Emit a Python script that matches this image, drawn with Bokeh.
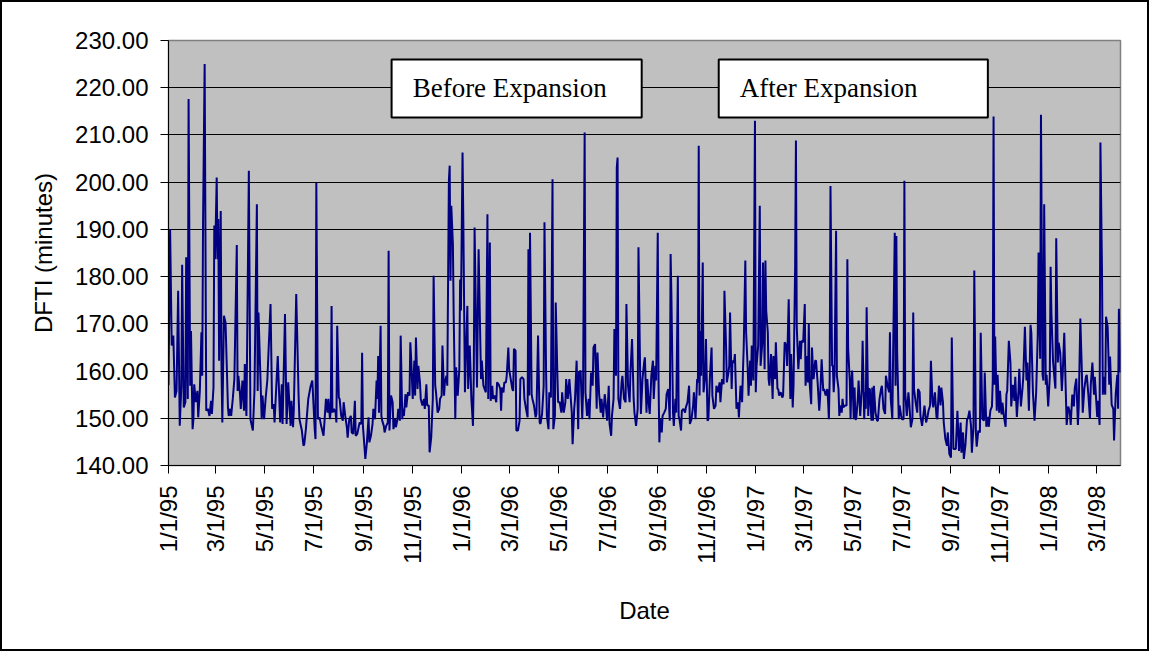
import math
import pandas as pd
from bokeh.plotting import figure
from bokeh.models import (Range1d, FixedTicker, NumeralTickFormatter, CustomJSTickFormatter,
                          BoxAnnotation, Label, ColumnDataSource)
from bokeh.embed import file_html
from bokeh.resources import INLINE

# ---------------- data ----------------
start_date = "1995-01-01"
end_date = "1998-03-31"

# day offsets from 1/1/95
days = [
    0, 2, 4, 6, 8, 10, 12, 14, 16, 17, 19, 21, 22, 24, 25, 27, 28, 30, 31, 32, 34, 36, 37, 39, 41, 42, 43, 45, 47, 49,
    51, 53, 54, 56, 57, 58, 60, 61, 62, 63, 65, 66, 67, 69, 71, 74, 75, 77, 78, 80, 82, 85, 86, 87, 89, 90, 92, 94, 95, 96,
    97, 100, 102, 105, 107, 110, 111, 112, 114, 116, 117, 119, 121, 123, 127, 129, 131, 132, 136, 139, 141, 142, 145, 147, 149, 152, 153, 155, 156, 159,
    162, 163, 166, 168, 169, 171, 174, 177, 179, 182, 183, 184, 186, 188, 190, 193, 196,
    198, 199, 201, 202, 203, 204, 206, 208, 209, 210, 212, 213, 215, 217, 218, 220, 222, 223, 225, 227, 228, 230, 232, 233, 235, 237, 238, 240, 241, 242,
    244, 245, 247, 249, 250, 252, 254, 255, 257, 259, 260, 261, 262, 264, 265, 266, 268, 269, 271, 273, 274, 275, 277, 279, 280, 282, 283, 285, 286, 288,
    289, 291, 292, 293, 295, 296, 298, 300, 301, 302, 304, 306, 307, 308, 310, 311, 313, 314, 316, 318, 319, 321, 322, 324, 325, 327, 329, 330, 332, 333,
    335, 337, 338, 340, 341, 343, 344, 346, 347, 349, 350, 351, 352, 354, 355, 357, 358, 360, 362, 363, 364, 366, 367, 369, 370, 372, 373, 375, 377, 379,
    380, 381, 382, 384, 386, 387, 389, 390, 392,
    395, 397, 398, 400, 401, 403, 404, 406, 408, 409, 411, 413, 414, 415, 417, 418, 420, 421, 423, 424, 426, 428, 429, 430, 432, 433, 435, 437, 438, 440,
    442, 443, 445, 447, 448, 449, 450, 452, 453, 455, 457, 458, 460, 462, 463, 465, 467, 468, 470, 471, 473, 474, 476, 478, 479, 481, 482, 484, 485, 487,
    489, 490, 492, 494, 495, 497, 499, 500, 502, 503, 505, 506, 508, 510, 511, 513, 515, 516, 518, 519, 521, 523, 524, 526, 528, 529, 531, 533, 534, 536,
    538, 539, 541, 543, 544, 546, 548, 549, 551, 552, 554, 555, 557, 558, 559, 560, 562, 564, 565, 567, 569, 570, 572, 574, 575, 577, 579, 580, 582, 584,
    585, 587, 588, 590,
    592, 593, 595, 596, 598, 599, 601, 603, 604, 606, 607, 609, 610, 611, 612, 614, 615, 617, 619, 620, 622, 624, 625, 626, 628, 629, 631, 632, 634, 635,
    636, 638, 639, 641, 643, 644, 646, 648, 649, 651, 653, 654, 656, 658, 659, 660, 661, 662, 663, 665, 666, 668, 669, 671, 672, 674, 676, 677, 679, 681,
    682, 684, 686, 687, 689, 691, 692, 694, 695, 697, 698, 699, 701, 702, 704, 705, 707, 709, 710, 712, 714, 715, 716, 718, 719, 721, 722, 724, 725, 726,
    728, 730, 731, 732, 734, 736, 737, 739, 740, 742, 743, 744, 746, 747, 748, 750, 752, 753, 755, 756, 758, 759, 760, 762, 764, 765, 767, 769, 770, 772,
    774, 775, 777, 778, 780, 781, 782, 784, 786, 787,
    788, 790, 791, 792, 793, 795, 796, 797, 798, 800, 801, 802, 803, 805, 806, 808, 810, 811, 813, 815, 816, 818, 820, 821, 822, 823, 824, 826, 827, 828,
    829, 831, 832, 834, 835, 836, 838, 839, 840, 842, 844, 845, 846, 848, 849, 850, 851, 853, 854, 855, 856, 858, 859, 861, 863, 864, 866, 867, 868, 869,
    871, 872, 873, 875, 876, 877, 878, 880, 882, 883, 885, 887, 888, 890, 892, 893, 895, 897, 898, 899, 901, 902, 904, 905, 906, 907, 909, 910, 912, 913,
    915, 916, 917, 919, 921, 922, 924, 926, 927, 928, 930, 932, 933, 935, 936, 938, 940, 941, 943, 945, 946, 948, 949, 951, 952, 954, 956, 957, 959, 961,
    962, 964, 965, 967, 969, 970, 972, 974, 975, 977, 979, 980,
    982, 984, 986, 987, 989, 990, 992, 994, 995, 997, 999, 1000, 1002, 1003, 1005, 1006, 1008, 1010, 1011, 1013, 1015, 1016, 1018, 1020, 1021, 1023, 1025, 1026, 1027, 1028,
    1029, 1031, 1032, 1034, 1035, 1037, 1038, 1040, 1042, 1043, 1044, 1046, 1048, 1049, 1051, 1053, 1054, 1056, 1058, 1059, 1061, 1063, 1064, 1066, 1068, 1069, 1071, 1073, 1074, 1076,
    1078, 1080, 1082, 1083, 1085, 1086, 1088, 1089, 1090, 1092, 1093, 1095, 1097, 1098, 1099, 1101, 1103, 1104, 1105, 1107, 1108, 1110, 1112, 1113, 1115, 1117, 1118, 1120, 1122, 1123,
    1125, 1127, 1128, 1130, 1132, 1133, 1135, 1137, 1138, 1140, 1142, 1143, 1145, 1147, 1148, 1150, 1152, 1153, 1156, 1157, 1159, 1160, 1162, 1163, 1164, 1166, 1167, 1169, 1171, 1172,
    1174, 1176, 1177, 1179, 1181, 1182, 1183, 1185,
]

# DFTI in minutes
dfti = [
    157.0, 190.1, 165.4, 167.5, 154.4, 155.8, 177.0, 148.4, 156.9, 182.5, 152.3, 153.4, 184.1, 154.1, 217.6, 156.9, 168.5, 147.7, 149.8, 157.2, 153.4, 155.8, 150.2, 155.8, 168.2, 159.0, 191.5, 225.0, 151.6, 152.0,
    150.5, 153.7, 150.9, 156.5, 190.8, 183.7, 201.0, 183.7, 192.2, 162.2, 193.9, 160.4, 149.1, 171.7, 170.3, 152.3, 150.5, 152.0, 150.5, 154.1, 158.3, 186.7, 155.8, 159.0, 155.1, 152.0, 158.0, 151.6, 161.5, 154.4,
    150.5, 202.4, 149.8, 147.4, 155.8, 195.3, 155.8, 172.4, 161.1, 149.8, 154.8, 149.8, 154.4, 158.0, 174.2, 152.0, 153.0, 149.1, 163.2, 149.1, 157.2, 148.8, 172.1, 148.8, 157.6, 148.4, 153.7, 148.1, 152.0, 176.3,
    154.4, 149.8, 147.4, 144.2, 144.5, 147.7, 154.1, 156.9, 158.0, 147.7, 145.6, 199.9, 149.8, 150.2, 148.4, 146.3, 154.1,
    151.2, 154.1, 149.8, 152.0, 173.8, 151.2, 152.0, 151.2, 149.1, 169.6, 154.4, 154.1, 150.5, 149.5, 153.4, 150.5, 148.1, 145.9, 149.8, 150.5, 147.0, 146.7, 153.7, 146.3, 146.7, 148.4, 149.1, 148.8, 163.9, 148.4,
    143.8, 141.4, 144.9, 150.2, 144.9, 146.3, 148.8, 152.0, 149.8, 158.0, 154.1, 163.2, 151.2, 169.6, 150.5, 149.5, 148.4, 147.0, 148.4, 149.1, 185.5, 147.4, 154.8, 153.4, 147.7, 149.8, 148.1, 149.8, 152.0, 149.5,
    167.5, 149.8, 152.0, 150.5, 155.1, 152.3, 155.5, 154.8, 166.1, 162.9, 154.1, 162.2, 154.8, 167.1, 156.2, 161.1, 157.6, 154.1, 152.7, 154.1, 152.0, 157.2, 152.7, 152.7, 142.8, 145.9, 154.1, 180.2, 156.9, 155.5,
    151.2, 152.0, 154.1, 154.8, 165.4, 154.8, 157.6, 159.0, 156.9, 200.3, 203.5, 179.1, 195.0, 186.9, 171.7, 149.8, 160.8, 154.8, 160.4, 179.4, 172.8, 206.3, 191.5, 155.5, 162.2, 173.8, 156.2, 165.4, 154.1, 148.4,
    159.0, 190.4, 179.1, 156.5, 185.8, 176.6, 158.3, 162.2, 156.9,
    155.5, 193.2, 154.1, 187.2, 153.7, 156.9, 154.1, 154.8, 153.4, 157.6, 157.2, 156.2, 151.6, 156.5, 155.5, 157.6, 157.6, 159.0, 165.0, 160.4, 158.3, 156.2, 155.8, 164.7, 164.3, 147.4, 147.4, 149.5, 158.3, 158.7,
    158.3, 154.1, 152.0, 150.2, 185.8, 154.8, 189.3, 155.1, 154.1, 152.7, 150.2, 150.9, 167.5, 149.1, 148.8, 150.9, 156.9, 191.5, 159.7, 150.5, 147.7, 155.5, 154.4, 200.6, 147.7, 150.5, 174.5, 159.7, 153.4, 153.4,
    151.2, 155.5, 151.2, 153.4, 158.3, 154.1, 158.3, 155.8, 151.2, 144.5, 152.0, 154.1, 162.2, 147.7, 159.7, 160.1, 149.8, 155.5, 210.5, 155.5, 150.5, 154.1, 149.8, 159.7, 156.9, 165.0, 165.7, 152.0, 163.9, 155.1,
    151.2, 154.1, 150.2, 155.1, 153.4, 149.5, 156.9, 148.8, 146.3, 150.5, 154.1, 168.9, 159.0, 203.1, 205.2, 154.1, 152.0, 157.6, 159.0, 154.1, 153.4, 174.2, 156.9, 153.4, 159.7, 166.8, 154.1, 151.2, 148.4, 152.0,
    186.2, 160.4, 150.9, 158.3,
    161.8, 162.9, 151.2, 158.3, 152.7, 150.9, 159.0, 162.2, 154.1, 161.1, 158.0, 189.3, 157.6, 144.9, 149.8, 147.0, 150.5, 151.2, 152.0, 155.1, 156.2, 149.5, 184.8, 175.9, 151.2, 148.4, 154.1, 151.2, 180.2, 150.5,
    149.8, 147.4, 151.6, 152.0, 151.2, 152.3, 153.4, 156.9, 148.8, 149.8, 152.7, 155.5, 149.8, 158.3, 157.6, 207.7, 154.8, 168.5, 159.0, 183.0, 155.5, 159.0, 166.8, 149.5, 149.8, 159.0, 165.0, 154.8, 152.0, 152.7,
    156.9, 155.5, 157.6, 153.4, 158.3, 157.2, 177.0, 165.4, 157.6, 159.7, 161.1, 172.4, 156.2, 162.2, 161.8, 163.6, 152.0, 153.4, 150.2, 156.9, 153.4, 159.7, 165.0, 183.4, 168.2, 160.4, 154.8, 162.2, 156.9, 165.4,
    158.0, 213.0, 155.5, 161.1, 165.4, 195.0, 161.1, 165.7, 183.0, 160.4, 183.4, 172.8, 168.2, 158.3, 156.9, 163.6, 154.1, 163.2, 158.3, 166.1, 156.2, 156.2, 154.8, 155.5, 154.4, 154.8, 166.1, 165.4, 161.1, 175.2,
    154.1, 163.6, 152.3, 156.9, 182.3, 208.8, 169.6, 160.4, 166.4, 162.5,
    166.4, 166.1, 170.0, 174.2, 156.9, 163.2, 157.6, 170.0, 157.6, 153.0, 165.0, 161.1, 158.3, 162.2, 162.2, 157.6, 151.6, 154.1, 162.5, 155.8, 156.2, 154.8, 156.2, 153.7, 149.8, 158.3, 199.2, 161.1, 161.1, 155.5,
    159.0, 189.7, 159.0, 156.2, 150.5, 152.7, 151.2, 154.1, 152.3, 152.7, 152.7, 183.7, 164.7, 158.0, 149.8, 157.6, 160.1, 149.8, 156.5, 149.8, 149.8, 154.1, 158.0, 150.5, 156.2, 166.4, 149.8, 155.5, 152.0, 173.5,
    150.5, 156.2, 156.2, 149.5, 156.5, 149.5, 156.9, 151.2, 149.5, 149.5, 154.1, 156.2, 156.9, 152.0, 150.9, 159.0, 156.9, 155.5, 168.2, 154.1, 149.8, 163.9, 189.3, 156.9, 188.6, 163.9, 149.8, 152.7, 150.5, 149.8,
    149.8, 200.3, 155.5, 150.5, 155.5, 153.4, 148.1, 149.8, 172.4, 156.2, 153.4, 151.2, 156.2, 155.5, 150.5, 148.4, 151.2, 152.7, 149.1, 150.5, 151.6, 152.7, 162.2, 153.4, 152.3, 155.5, 150.2, 149.8, 156.9, 152.7,
    156.5, 153.4, 149.1, 145.6, 144.2, 147.0, 142.4, 141.7, 167.1, 143.5, 143.5, 143.5,
    151.6, 143.1, 149.1, 142.7, 147.0, 141.4, 144.4, 149.9, 149.9, 151.6, 148.2, 142.7, 148.2, 181.3, 147.0, 144.0, 147.4, 147.0, 168.1, 149.9, 149.5, 159.7, 148.2, 150.3, 148.2, 151.6, 152.5, 158.0, 213.9, 157.1,
    167.3, 151.6, 159.2, 151.2, 155.8, 150.8, 153.3, 150.3, 148.2, 155.0, 155.8, 166.4, 161.8, 152.5, 157.1, 153.7, 158.8, 150.3, 155.8, 160.5, 152.5, 156.3, 158.8, 169.4, 158.0, 161.8, 151.6, 169.8, 168.1, 155.4,
    149.5, 155.4, 167.7, 185.1, 162.6, 214.3, 159.2, 158.0, 195.3, 157.1, 159.2, 152.5, 158.8, 182.1, 172.4, 162.2, 158.0, 156.3, 188.1, 161.8, 166.0, 163.9, 155.8, 159.2, 168.1, 155.0, 148.6, 152.5, 151.2, 148.6,
    155.0, 152.5, 156.3, 158.4, 148.6, 152.5, 171.1, 159.2, 151.2, 156.3, 158.8, 159.2, 155.0, 149.9, 157.1, 161.8, 155.0, 158.8, 150.3, 153.7, 148.6, 208.4, 180.8, 155.0, 158.8, 155.0, 171.5, 169.4, 157.1, 163.1,
    152.9, 152.0, 145.3, 155.0, 159.2, 152.0, 173.2, 159.7,
]

tick_dates = [
    "1995-01-01", "1995-03-01", "1995-05-01", "1995-07-01", "1995-09-01", "1995-11-01",
    "1996-01-01", "1996-03-01", "1996-05-01", "1996-07-01", "1996-09-01", "1996-11-01",
    "1997-01-01", "1997-03-01", "1997-05-01", "1997-07-01", "1997-09-01", "1997-11-01",
    "1998-01-01", "1998-03-01",
]
y_ticks = [140, 150, 160, 170, 180, 190, 200, 210, 220, 230]
y_title = "DFTI (minutes)"
x_title = "Date"
box_texts = ["Before Expansion", "After Expansion"]

# ---------------- chart ----------------
t0 = pd.Timestamp(start_date)
dates = t0 + pd.to_timedelta(days, unit="D")
source = ColumnDataSource(dict(date=dates, dfti=dfti))


def ms(day_offset):
    return (t0 + pd.Timedelta(days=day_offset)).value / 1e6


p = figure(
    width=1149, height=651,
    x_axis_type="datetime",
    x_range=Range1d(t0, pd.Timestamp(end_date)),
    y_range=Range1d(140, 230),
    output_backend="svg", toolbar_location=None,
    min_border_left=166, min_border_right=31, min_border_top=38, min_border_bottom=188,
)
p.styles = {"border": "2px solid black"}
p.background_fill_color = "#C0C0C0"
p.border_fill_color = "white"
p.outline_line_color = "#808080"
p.outline_line_width = 1.5

p.line("date", "dfti", source=source, line_color="#000080", line_width=2)

# axes
p.xaxis.ticker = FixedTicker(ticks=[pd.Timestamp(d).value / 1e6 for d in tick_dates])
p.xaxis.formatter = CustomJSTickFormatter(code="""
    const d = new Date(tick);
    return (d.getUTCMonth() + 1) + '/' + d.getUTCDate() + '/' + String(d.getUTCFullYear()).slice(2);
""")
p.xaxis.major_label_orientation = math.pi / 2
p.yaxis.ticker = FixedTicker(ticks=y_ticks)
p.yaxis.formatter = NumeralTickFormatter(format="0.00")
p.xaxis.axis_label = x_title
p.yaxis.axis_label = y_title

for ax in (p.xaxis[0], p.yaxis[0]):
    ax.axis_line_color = "black"
    ax.axis_line_width = 1
    ax.major_tick_line_color = "black"
    ax.major_tick_in = 0
    ax.major_tick_out = 8
    ax.minor_tick_line_color = None
    ax.major_label_text_font = "Liberation Sans"
    ax.major_label_text_font_size = "24px"
    ax.major_label_text_color = "black"
    ax.major_label_standoff = 12
    ax.axis_label_text_font = "Liberation Sans"
    ax.axis_label_text_font_size = "24px"
    ax.axis_label_text_font_style = "normal"
    ax.axis_label_text_color = "black"
p.xaxis.axis_label_standoff = 30
p.yaxis.axis_label_standoff = 15

p.xgrid.grid_line_color = None
p.ygrid.ticker = FixedTicker(ticks=y_ticks)
p.ygrid.grid_line_color = "black"
p.ygrid.grid_line_width = 1

# annotation boxes
box_days = [(277.7, 589.0), (684.9, 1019.9)]
text_days = [303.9, 711.1]
for (d0, d1), td, txt in zip(box_days, text_days, box_texts):
    p.add_layout(BoxAnnotation(left=ms(d0), right=ms(d1), top=226.0, bottom=213.7,
                               fill_color="white", fill_alpha=1.0,
                               line_color="black", line_alpha=1.0, line_width=2))
    p.add_layout(Label(x=ms(td), y=219.85, text=txt, text_font="Liberation Serif",
                       text_font_size="27px", text_color="black",
                       text_align="left", text_baseline="middle"))

open("out.html", "w").write(file_html(p, INLINE))
